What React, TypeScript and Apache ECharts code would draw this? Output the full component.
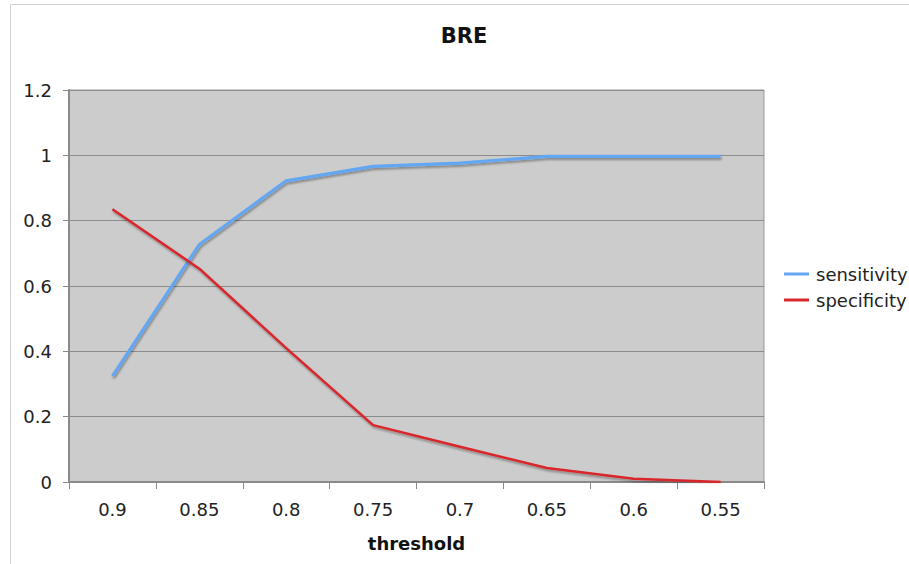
import React, { useEffect, useRef } from "react";
import * as echarts from "echarts";

const thresholds = ["0.9", "0.85", "0.8", "0.75", "0.7", "0.65", "0.6", "0.55"];
const sensitivity = [0.324, 0.727, 0.922, 0.966, 0.976, 0.997, 0.997, 0.997];
const specificity = [0.835, 0.653, 0.41, 0.174, 0.108, 0.043, 0.01, 0.0];

const FONT = "DejaVu Sans";

export default function App() {
  const ref = useRef<HTMLDivElement>(null);
  useEffect(() => {
    if (!ref.current) return;
    const chart = echarts.init(ref.current, undefined, { renderer: "svg" });
    const lineShadow = {
      shadowColor: "rgba(0,0,0,0.35)",
      shadowBlur: 2,
      shadowOffsetX: 1,
      shadowOffsetY: 2,
    };
    chart.setOption({
      animation: false,
      backgroundColor: "#ffffff",
      textStyle: { fontFamily: FONT },
      graphic: [
        {
          type: "rect",
          silent: true,
          shape: { x: 10.5, y: 4.5, width: 930, height: 600 },
          style: { fill: "none", stroke: "#cfcfcf", lineWidth: 1 },
          z: -10,
        },
      ],
      title: {
        text: "BRE",
        left: 464,
        top: 25,
        padding: 0,
        textAlign: "center",
        textStyle: { fontFamily: FONT, fontSize: 21, fontWeight: "bold", color: "#111" },
      },
      legend: {
        orient: "vertical",
        left: 779,
        top: 259,
        itemWidth: 25,
        itemHeight: 3,
        itemGap: 6,
        icon: "rect",
        textStyle: { fontFamily: FONT, fontSize: 18, color: "#222", lineHeight: 20, padding: [0, 0, 0, 2] },
        data: ["sensitivity", "specificity"],
      },
      grid: {
        left: 69,
        top: 90,
        right: 145,
        bottom: 82,
        show: true,
        backgroundColor: "#cccccc",
        borderColor: "#9a9a9a",
        borderWidth: 1,
      },
      xAxis: {
        type: "category",
        data: thresholds,
        boundaryGap: true,
        name: "threshold",
        nameLocation: "middle",
        nameGap: 52,
        nameTextStyle: { fontFamily: FONT, fontSize: 18, fontWeight: "bold", color: "#111" },
        axisLine: { lineStyle: { color: "#8a8a8a", width: 2 } },
        axisTick: { show: true, alignWithLabel: false, length: 7, lineStyle: { color: "#8a8a8a" } },
        axisLabel: { fontFamily: FONT, fontSize: 18, color: "#222", margin: 18 },
        splitLine: { show: false },
      },
      yAxis: {
        type: "value",
        min: 0,
        max: 1.2,
        interval: 0.2,
        axisLine: { show: true, lineStyle: { color: "#8a8a8a", width: 2 } },
        axisTick: { show: true, length: 6, lineStyle: { color: "#8a8a8a" } },
        axisLabel: {
          fontFamily: FONT,
          fontSize: 18,
          color: "#222",
          margin: 17,
          formatter: (v: number) => String(Math.round(v * 10) / 10),
        },
        splitLine: { show: true, lineStyle: { color: "#8c8c8c", width: 1 } },
      },
      series: [
        {
          name: "sensitivity",
          type: "line",
          data: sensitivity,
          showSymbol: false,
          symbol: "none",
          itemStyle: { color: "#63a6f2" },
          lineStyle: { color: "#63a6f2", width: 3.2, ...lineShadow },
        },
        {
          name: "specificity",
          type: "line",
          data: specificity,
          showSymbol: false,
          symbol: "none",
          itemStyle: { color: "#d8262c" },
          lineStyle: { color: "#d8262c", width: 2.5, ...lineShadow },
        },
      ],
    });
    return () => chart.dispose();
  }, []);
  return (
    <div
      ref={ref}
      style={{ position: "fixed", left: 0, top: 0, width: 909, height: 564 }}
    />
  );
}
